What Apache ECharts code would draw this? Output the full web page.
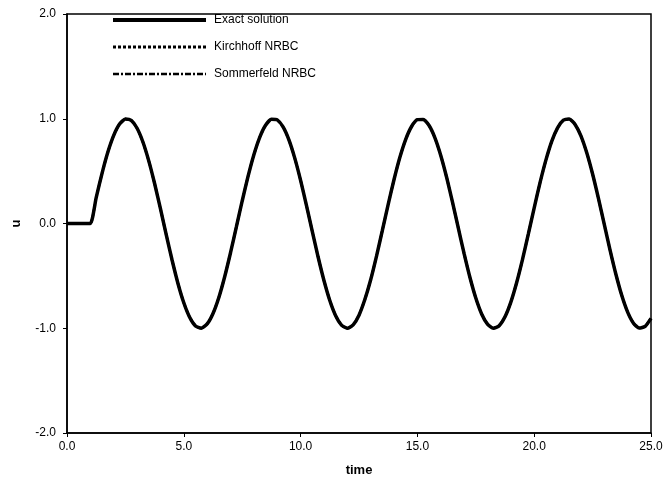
<!DOCTYPE html>
<html>
<head>
<meta charset="utf-8">
<script src="https://cdn.jsdelivr.net/npm/echarts@6/dist/echarts.min.js"></script>
<style>html,body{margin:0;padding:0;background:#fff;}#c{width:667px;height:487px;}</style>
</head>
<body>
<div id="c"></div>
<script>
var seriesNames = ['Exact solution', 'Kirchhoff NRBC', 'Sommerfeld NRBC'];
var xTicks = [0, 5, 10, 15, 20, 25];
var yTicks = [-2, -1, 0, 1, 2];
var time = [];
for (var i = 0; i <= 100; i++) time.push(i * 0.25);
var uExact = [0, 0, 0, 0,
  0, 0.247, 0.479, 0.682, 0.841, 0.949, 0.997, 0.984, 0.909, 0.778, 0.598, 0.382, 0.141,
  -0.108, -0.351, -0.572, -0.757, -0.895, -0.978, -0.999, -0.959, -0.859, -0.706, -0.508, -0.279,
  -0.033, 0.215, 0.450, 0.657, 0.823, 0.938, 0.995, 0.989, 0.922, 0.798, 0.624, 0.412, 0.174,
  -0.075, -0.320, -0.544, -0.735, -0.880, -0.970, -1.000, -0.968, -0.875, -0.726, -0.537, -0.311,
  -0.066, 0.183, 0.420, 0.632, 0.804, 0.926, 0.991, 0.994, 0.935, 0.818, 0.650, 0.442, 0.206,
  -0.042, -0.288, -0.516, -0.712, -0.864, -0.961, -0.999, -0.976, -0.891, -0.751, -0.564, -0.343,
  -0.099, 0.150, 0.390, 0.605, 0.784, 0.913, 0.986, 0.997, 0.946, 0.837, 0.675, 0.472, 0.239,
  -0.009, -0.256, -0.487, -0.688, -0.846, -0.952, -0.998, -0.982, -0.906];
var uKirchhoff = uExact.slice();
var uSommerfeld = uExact.slice();

function pairs(xs, ys) { return xs.map(function (x, i) { return [x, ys[i]]; }); }

var chart = echarts.init(document.getElementById('c'));
var font = 'Liberation Sans, Arial, Helvetica, sans-serif';
chart.setOption({
  animation: false,
  backgroundColor: '#fff',
  grid: { left: 67, right: 16, top: 14, bottom: 54, show: true, borderColor: '#000', borderWidth: 1.5, backgroundColor: 'transparent' },
  legend: {
    orient: 'vertical', left: 106, top: 9,
    itemWidth: 93, itemHeight: 12, itemGap: 15,
    itemStyle: { opacity: 0 },
    textStyle: { fontFamily: font, fontSize: 12, color: '#000', padding: [0, 0, 0, 3] },
    data: [
      { name: seriesNames[0], lineStyle: { width: 4, type: 'solid' } },
      { name: seriesNames[1], lineStyle: { width: 3, type: [3, 2] } },
      { name: seriesNames[2], lineStyle: { width: 2.5, type: [6, 2, 2, 2] } }
    ]
  },
  xAxis: {
    type: 'value', min: 0, max: 25, interval: 5,
    name: 'time', nameLocation: 'middle', nameGap: 31,
    nameTextStyle: { fontFamily: font, fontSize: 13, fontWeight: 'bold', color: '#000' },
    axisLine: { onZero: false, lineStyle: { color: '#000', width: 1.5 } },
    axisTick: { show: true, length: 4, lineStyle: { color: '#000' } },
    axisLabel: { fontFamily: font, fontSize: 12, color: '#000', margin: 8, formatter: function (v) { return v.toFixed(1); } },
    splitLine: { show: false }
  },
  yAxis: {
    type: 'value', min: -2, max: 2, interval: 1,
    name: 'u', nameLocation: 'middle', nameGap: 44, nameRotate: 90,
    nameTextStyle: { fontFamily: font, fontSize: 13, fontWeight: 'bold', color: '#000' },
    axisLine: { onZero: false, lineStyle: { color: '#000', width: 1.5 } },
    axisTick: { show: true, length: 4, lineStyle: { color: '#000' } },
    axisLabel: { fontFamily: font, fontSize: 12, color: '#000', margin: 11, formatter: function (v) { return v.toFixed(1); } },
    splitLine: { show: false }
  },
  series: [
    { name: seriesNames[0], type: 'line', symbol: 'none', smooth: 0.2, data: pairs(time, uExact), color: '#000',
      lineStyle: { color: '#000', width: 3.5, type: 'solid' } },
    { name: seriesNames[1], type: 'line', symbol: 'none', smooth: 0.2, data: pairs(time, uKirchhoff), color: '#000',
      lineStyle: { color: '#000', width: 2.5, type: [3, 2] } },
    { name: seriesNames[2], type: 'line', symbol: 'none', smooth: 0.2, data: pairs(time, uSommerfeld), color: '#000',
      lineStyle: { color: '#000', width: 2, type: [6, 2, 2, 2] } }
  ]
});
</script>
</body>
</html>
